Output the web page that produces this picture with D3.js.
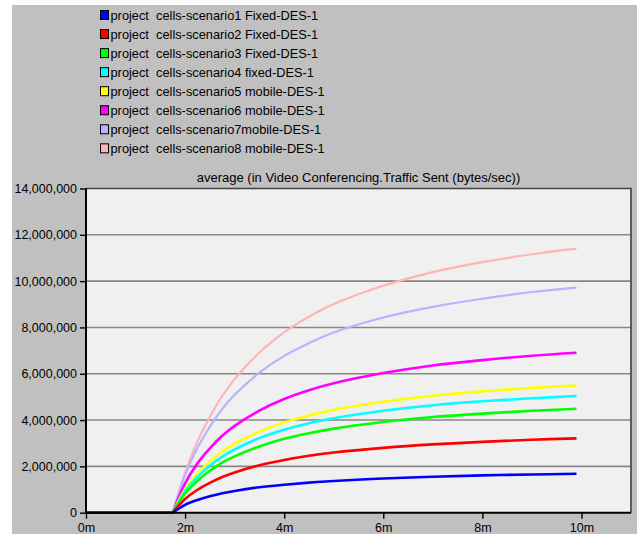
<!DOCTYPE html>
<html>
<head>
<meta charset="utf-8">
<script src="https://cdn.jsdelivr.net/npm/d3@7"></script>
<style>
  html, body { margin: 0; padding: 0; background: #ffffff; }
  svg { display: block; }
  text { font-family: "Liberation Sans", Arial, sans-serif; }
</style>
</head>
<body>
<svg id="chart" width="637" height="534"></svg>
<script>
// Simulation time in minutes
const times = [0, 1.75, 2, 2.25, 2.5, 2.75, 3, 3.5, 4, 4.5, 5, 6, 7, 8, 9, 9.9];

// Average Video Conferencing traffic sent, in millions of bytes/sec
const scenario1 = [0, 0, 0.34, 0.55, 0.71, 0.84, 0.94, 1.10, 1.21, 1.30, 1.37, 1.48, 1.55, 1.61, 1.65, 1.68];
const scenario2 = [0, 0, 0.59, 0.99, 1.29, 1.54, 1.74, 2.05, 2.28, 2.46, 2.60, 2.80, 2.95, 3.06, 3.15, 3.21];
const scenario3 = [0, 0, 0.83, 1.38, 1.81, 2.16, 2.43, 2.86, 3.19, 3.43, 3.63, 3.92, 4.13, 4.28, 4.40, 4.49];
const scenario4 = [0, 0, 0.93, 1.55, 2.03, 2.42, 2.73, 3.22, 3.58, 3.86, 4.08, 4.40, 4.64, 4.81, 4.94, 5.04];
const scenario5 = [0, 0, 1.01, 1.69, 2.21, 2.64, 2.98, 3.50, 3.90, 4.20, 4.44, 4.79, 5.05, 5.24, 5.39, 5.49];
const scenario6 = [0, 0, 1.27, 2.13, 2.78, 3.32, 3.75, 4.41, 4.91, 5.29, 5.59, 6.03, 6.36, 6.59, 6.78, 6.91];
const scenario7 = [0, 0, 1.62, 2.80, 3.72, 4.48, 5.09, 6.05, 6.77, 7.32, 7.78, 8.43, 8.89, 9.24, 9.53, 9.72];
const scenario8 = [0, 0, 1.73, 3.08, 4.15, 5.04, 5.77, 6.92, 7.79, 8.46, 9.01, 9.80, 10.39, 10.82, 11.16, 11.40];
const UNIT = 1e6;

const seriesNames = [
  "project  cells-scenario1 Fixed-DES-1",
  "project  cells-scenario2 Fixed-DES-1",
  "project  cells-scenario3 Fixed-DES-1",
  "project  cells-scenario4 fixed-DES-1",
  "project  cells-scenario5 mobile-DES-1",
  "project  cells-scenario6 mobile-DES-1",
  "project  cells-scenario7mobile-DES-1",
  "project  cells-scenario8 mobile-DES-1"
];
const seriesValues = [scenario1, scenario2, scenario3, scenario4, scenario5, scenario6, scenario7, scenario8];
const seriesColors = ["#0000ff", "#ff0000", "#00ff00", "#00ffff", "#ffff00", "#ff00ff", "#b4b4ff", "#ffb4b4"];

const yTicks = [0, 2e6, 4e6, 6e6, 8e6, 10e6, 12e6, 14e6];
const xTicks = [0, 2, 4, 6, 8, 10];
const title = "average (in Video Conferencing.Traffic Sent (bytes/sec))";

const svg = d3.select("#chart");

// Gray panel behind legend and chart
svg.append("rect").attr("x", 12).attr("y", 5).attr("width", 625).attr("height", 529).attr("fill", "#c0c0c0");

// Legend
const legend = svg.append("g");
seriesNames.forEach((name, i) => {
  const cy = 15 + i * 19.05;
  legend.append("rect")
    .attr("x", 100.5).attr("y", cy - 4.5).attr("width", 8).attr("height", 9)
    .attr("fill", seriesColors[i]).attr("stroke", "#000").attr("stroke-width", 1);
  legend.append("text")
    .attr("x", 110.5).attr("y", cy + 4.5)
    .attr("font-size", "12.8px").attr("fill", "#000")
    .style("white-space", "pre")
    .text(name);
});

// Plot area
const plotLeft = 86, plotRight = 631, plotTop = 188.5, plotBottom = 512.7;
const x = d3.scaleLinear().domain([0, 11]).range([plotLeft, plotRight]);
const y = d3.scaleLinear().domain([0, 14e6]).range([plotBottom, plotTop]);

svg.append("rect").attr("x", plotLeft).attr("y", plotTop)
  .attr("width", plotRight - plotLeft).attr("height", plotBottom - plotTop)
  .attr("fill", "#f0f0f0");

// Horizontal gridlines
svg.append("g").selectAll("line").data(yTicks.slice(1, -1)).join("line")
  .attr("x1", plotLeft).attr("x2", plotRight)
  .attr("y1", d => y(d)).attr("y2", d => y(d))
  .attr("stroke", "#878787").attr("stroke-width", 1.6);

// Frame: top and right edges
svg.append("path")
  .attr("d", `M${plotLeft},${plotTop}H${plotRight}V${plotBottom}`)
  .attr("fill", "none").attr("stroke", "#404040").attr("stroke-width", 1.6);

// Series lines: flat until traffic starts, then a smooth rising curve
const rise = d3.line()
  .x(d => x(d[0]))
  .y(d => y(d[1] * UNIT))
  .curve(d3.curveCatmullRom.alpha(0.5));

function seriesPath(values) {
  const pts = times.map((t, i) => [t, values[i]]);
  const flat = `M${x(pts[0][0])},${y(pts[0][1] * UNIT)}`;
  return flat + "L" + rise(pts.slice(1)).slice(1);
}

const order = [7, 6, 5, 4, 3, 2, 1, 0];
svg.append("g").selectAll("path").data(order).join("path")
  .attr("d", i => seriesPath(seriesValues[i]))
  .attr("fill", "none")
  .attr("stroke", i => seriesColors[i])
  .attr("stroke-width", i => (i >= 6 ? 2.2 : 2.6))
  .attr("stroke-linejoin", "round");

// Axes
const yAxis = d3.axisLeft(y).tickValues(yTicks).tickSize(6).tickPadding(3)
  .tickFormat(d3.format(",d"));
const gy = svg.append("g").attr("transform", `translate(${plotLeft},0)`).call(yAxis);
gy.select(".domain").remove();
gy.selectAll("line").attr("stroke", "#000").attr("stroke-width", 1.4);
gy.selectAll("text").attr("font-size", "12.5px").attr("fill", "#000")
  .attr("font-family", "Liberation Sans, Arial, sans-serif");

const xAxis = d3.axisBottom(x).tickValues(xTicks).tickSize(6).tickPadding(3)
  .tickFormat(d => d + "m");
const gx = svg.append("g").attr("transform", `translate(0,${plotBottom})`).call(xAxis);
gx.select(".domain").remove();
gx.selectAll("line").attr("stroke", "#000").attr("stroke-width", 1.4);
gx.selectAll("text").attr("font-size", "12.5px").attr("fill", "#000").attr("dy", null).attr("y", 19.5)
  .attr("font-family", "Liberation Sans, Arial, sans-serif");

// Left and bottom axis lines
svg.append("path")
  .attr("d", `M${plotLeft},${plotTop}V${plotBottom}H${plotRight}`)
  .attr("fill", "none").attr("stroke", "#000").attr("stroke-width", 2);

// Title
svg.append("text")
  .attr("x", (plotLeft + plotRight) / 2).attr("y", 182)
  .attr("text-anchor", "middle").attr("font-size", "13px").attr("fill", "#000")
  .text(title);
</script>
</body>
</html>
